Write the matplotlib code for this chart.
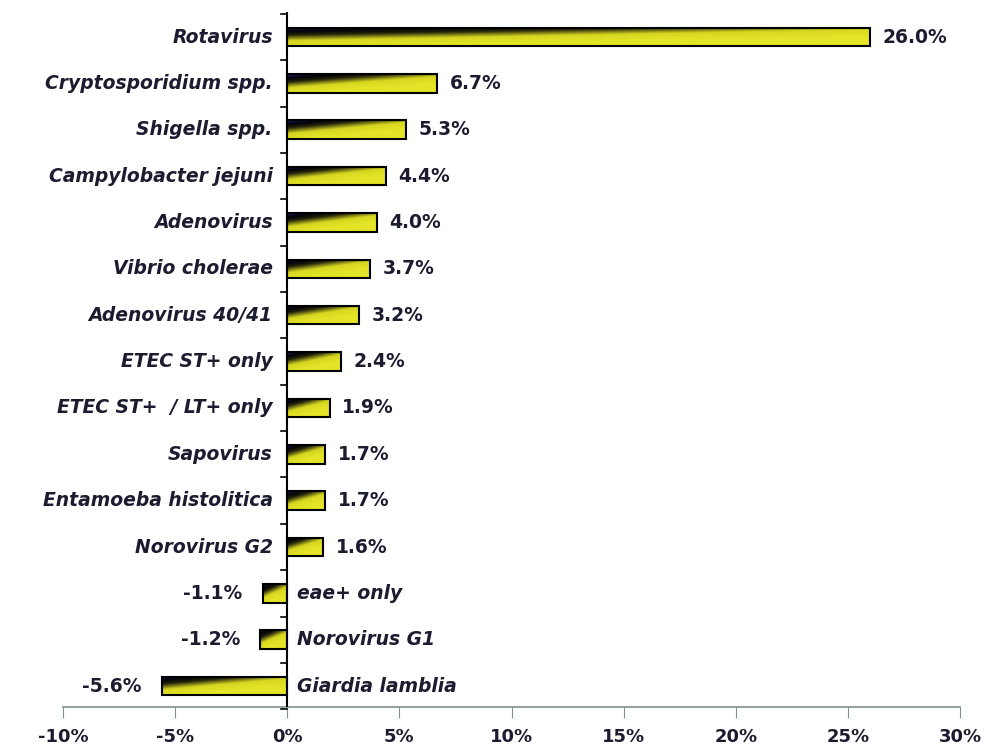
import numpy as np
import matplotlib.pyplot as plt
from matplotlib.colors import LinearSegmentedColormap
from matplotlib.patches import Rectangle

pathogens = ['Rotavirus', 'Cryptosporidium spp.', 'Shigella spp.', 'Campylobacter jejuni',
             'Adenovirus', 'Vibrio cholerae', 'Adenovirus 40/41', 'ETEC ST+ only',
             'ETEC ST+  / LT+ only', 'Sapovirus', 'Entamoeba histolitica', 'Norovirus G2',
             'eae+ only', 'Norovirus G1', 'Giardia lamblia']
values = [26.0, 6.7, 5.3, 4.4, 4.0, 3.7, 3.2, 2.4, 1.9, 1.7, 1.7, 1.6, -1.1, -1.2, -5.6]
xticks = [-10, -5, 0, 5, 10, 15, 20, 25, 30]

txt = '#1c1c30'
fill = LinearSegmentedColormap.from_list('fill', [
    (0.0, '#2a2aa8'), (0.08, '#121248'), (0.2, '#020204'), (0.38, '#24240c'),
    (0.66, '#d6d620'), (1.0, '#e4e428')])

fig = plt.figure(figsize=(9.88, 7.48), dpi=100)
ax = fig.add_axes([63 / 988, 41 / 748, 897 / 988, 695 / 748])

# dark band along the top-left fading into yellow towards the bottom-right
u, v = np.meshgrid(np.linspace(0, 1, 300), np.linspace(0, 1, 60))
grad = np.clip((u / 0.9 + v / 0.55) / 2.0, 0, 1)

h = 0.4
fs = 13.5
for i, (name, val) in enumerate(zip(pathogens, values)):
    x0, x1 = min(0, val), max(0, val)
    ax.imshow(grad, cmap=fill, vmin=0, vmax=1, aspect='auto', interpolation='bilinear',
              extent=[x0, x1, i + h / 2, i - h / 2], zorder=2)
    ax.add_patch(Rectangle((x0, i - h / 2), x1 - x0, h, fill=False,
                           edgecolor='black', linewidth=1.5, zorder=3))
    if val >= 0:
        ax.text(-0.65, i, name, ha='right', va='center', fontsize=fs,
                fontweight='bold', fontstyle='italic', color=txt)
        ax.text(val + 0.55, i, f'{val:.1f}%', ha='left', va='center', fontsize=fs,
                fontweight='bold', color=txt)
    else:
        ax.text(0.45, i, name, ha='left', va='center', fontsize=fs,
                fontweight='bold', fontstyle='italic', color=txt)
        ax.text(val - 0.9, i, f'{val:.1f}%', ha='right', va='center', fontsize=fs,
                fontweight='bold', color=txt)

ax.set_ylim(14.45, -0.54)
ax.set_xlim(-10, 30)

for s in ['top', 'right', 'left']:
    ax.spines[s].set_visible(False)
ax.spines['bottom'].set_color('#7f9090')
ax.spines['bottom'].set_linewidth(1.2)
ax.axvline(0, color='black', linewidth=1.5, zorder=4)

ax.set_xticks(xticks)
ax.set_xticklabels([f'{t}%' for t in xticks], fontsize=13, fontweight='bold', color=txt)
ax.tick_params(axis='x', direction='out', length=8, color='#7f9090', pad=7)

# small marks between categories on the zero line
for b in np.arange(-0.5, 14.6, 1.0):
    ax.plot([-0.3, 0], [b, b], color='black', linewidth=1.2, zorder=4, clip_on=False)
ax.set_yticks([])

fig.savefig('out.png', dpi=100)
